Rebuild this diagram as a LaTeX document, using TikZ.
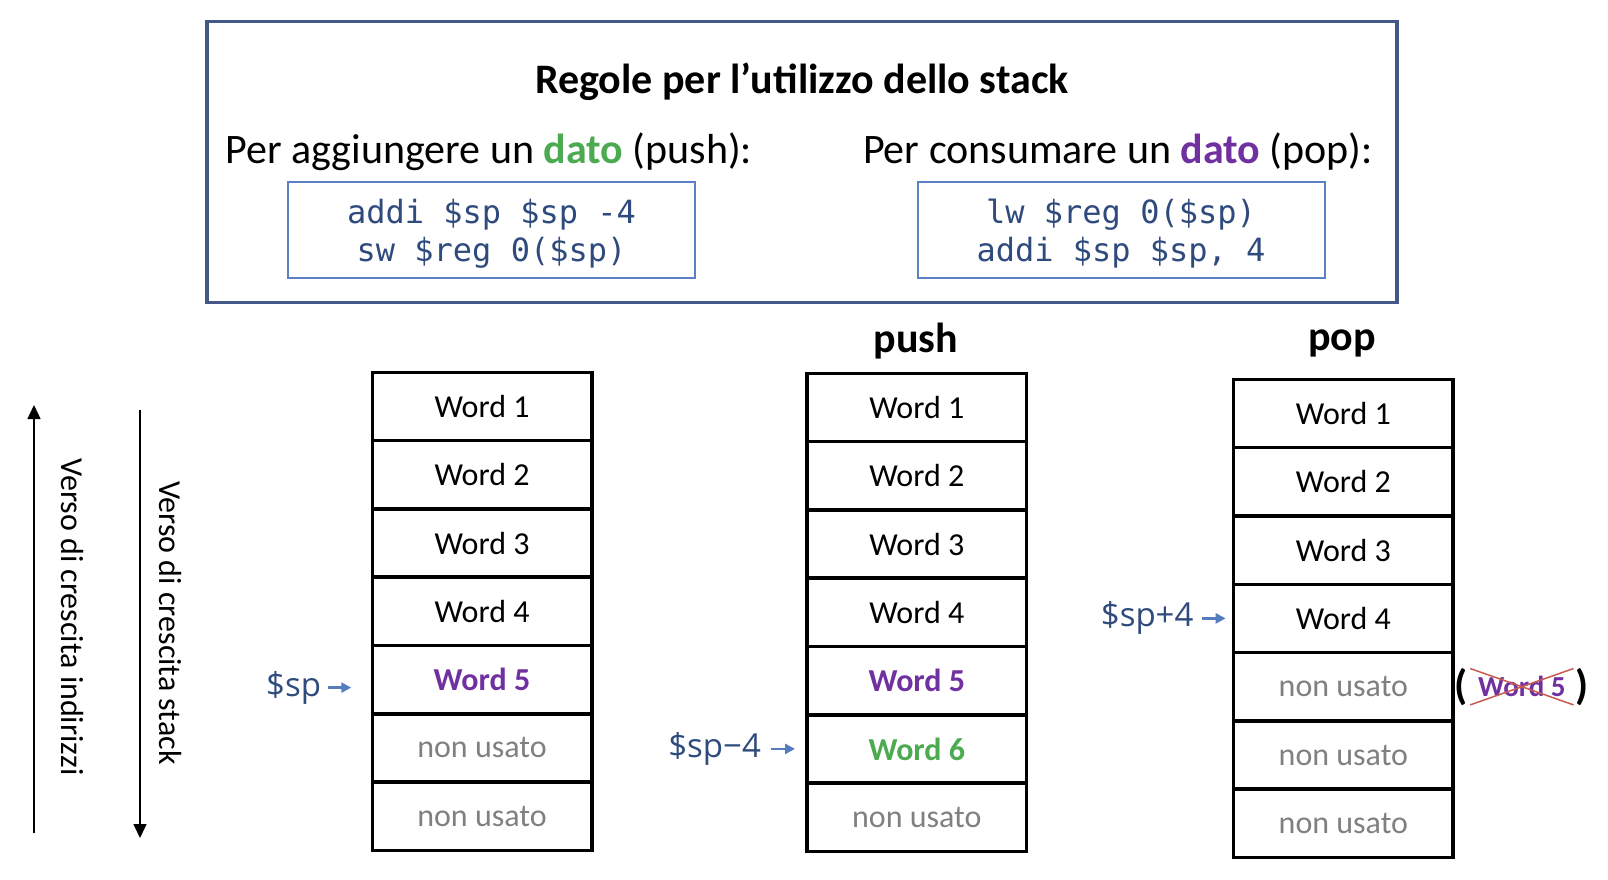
\documentclass[tikz,border=0pt]{standalone}
\usepackage{fontspec}
\setmainfont{Carlito}
\newfontfamily\codefont{DejaVu Sans Mono}
\newfontfamily\spfont{Open Sans}
\usetikzlibrary{positioning,arrows.meta}

\definecolor{boxblue}{RGB}{68,88,135}
\definecolor{codeblue}{RGB}{47,75,125}
\definecolor{frameblue}{RGB}{90,130,195}
\definecolor{arrowblue}{RGB}{85,125,190}
\definecolor{pushgreen}{RGB}{76,170,80}
\definecolor{poppurple}{RGB}{112,48,160}
\definecolor{unusedgray}{RGB}{128,128,128}
\definecolor{crossred}{RGB}{200,90,80}

\newcommand{\bigtext}{\fontsize{42}{50}\selectfont}
\newcommand{\celltext}{\fontsize{32}{38}\selectfont}
\newcommand{\codetext}{\codefont\fontsize{32}{38}\selectfont}

\tikzset{
	cell/.style={draw, line width=3.5pt, minimum width=219.5pt, minimum height=68.3pt, outer sep=0pt, inner sep=0pt, font=\celltext},
	unused/.style={cell, text=unusedgray},
	popword/.style={cell, text=poppurple, font=\celltext\bfseries},
	pushword/.style={cell, text=pushgreen, font=\celltext\bfseries},
	codebox/.style={draw=frameblue, line width=2pt, minimum width=407pt, minimum height=95.5pt, align=center, font=\codetext, text=codeblue},
	splabel/.style={inner sep=0pt, font=\spfont\fontsize{33}{40}\selectfont, text=codeblue},
	sparrow/.style={draw=arrowblue, line width=2.5pt, -{Triangle[length=10pt,width=10pt]}},
	growarrow/.style={line width=1.5pt, -{Triangle[length=14pt,width=13pt]}},
	growtext/.style={rotate=-90, font=\celltext},
	crossline/.style={draw=crossred, line width=1.5pt},
}

\begin{document}
\begin{tikzpicture}[x=1pt, y=-1pt]
	\useasboundingbox (0,0) rectangle (1608,880);

	% Rules box
	\node [draw=boxblue, line width=3.5pt, minimum width=1190pt, minimum height=281pt] (rules) at (802,162) {};
	\node [font=\bigtext\bfseries]	(title)		at (802,82)	{Regole per l’utilizzo dello stack};
	\node [font=\bigtext]			(pushrule)	at (489,152)	{Per aggiungere un \textcolor{pushgreen}{\textbf{dato}} (push):};
	\node [font=\bigtext]			(poprule)	at (1118,152)	{Per consumare un \textcolor{poppurple}{\textbf{dato}} (pop):};
	\node [codebox]				(pushcode)	at (491.5,230)	{\rule{0pt}{32pt}addi \$sp \$sp -4\\sw \$reg 0(\$sp)};
	\node [codebox]				(popcode)	at (1121,230)	{\rule{0pt}{32pt}lw \$reg 0(\$sp)\\addi \$sp \$sp, 4};

	% Stack before
	\node [cell]		(a1)	at (482,406.4)		{Word 1};
	\node [cell]		(a2)	[below=0pt of a1]	{Word 2};
	\node [cell]		(a3)	[below=0pt of a2]	{Word 3};
	\node [cell]		(a4)	[below=0pt of a3]	{Word 4};
	\node [popword]	(a5)	[below=0pt of a4]	{Word 5};
	\node [unused]	(a6)	[below=0pt of a5]	{non usato};
	\node [unused]	(a7)	[below=0pt of a6]	{non usato};

	% Stack after push
	\node [font=\bigtext\bfseries]	(pushhead)	at (916,341)	{push};
	\node [cell]		(b1)	at (916.8,407.4)	{Word 1};
	\node [cell]		(b2)	[below=0pt of b1]	{Word 2};
	\node [cell]		(b3)	[below=0pt of b2]	{Word 3};
	\node [cell]		(b4)	[below=0pt of b3]	{Word 4};
	\node [popword]	(b5)	[below=0pt of b4]	{Word 5};
	\node [pushword]	(b6)	[below=0pt of b5]	{Word 6};
	\node [unused]	(b7)	[below=0pt of b6]	{non usato};

	% Stack after pop
	\node [font=\bigtext\bfseries]	(pophead)	at (1342,343)	{pop};
	\node [cell]		(c1)	at (1343.4,413.5)	{Word 1};
	\node [cell]		(c2)	[below=0pt of c1]	{Word 2};
	\node [cell]		(c3)	[below=0pt of c2]	{Word 3};
	\node [cell]		(c4)	[below=0pt of c3]	{Word 4};
	\node [unused]	(c5)	[below=0pt of c4]	{non usato};
	\node [unused]	(c6)	[below=0pt of c5]	{non usato};
	\node [unused]	(c7)	[below=0pt of c6]	{non usato};

	% Stack pointers
	\node [splabel]	(sp)		[left=51pt of a5, yshift=-8pt]	{\$sp};
	\node [splabel]	(spminus)	[left=46pt of b6]	{\$sp−4};
	\node [splabel]	(spplus)	[left=40pt of c4]	{\$sp+4};
	\draw [sparrow, shorten <=7pt, shorten >=21pt]	(sp) -- (sp -| a5.west);
	\draw [sparrow, shorten <=10pt, shorten >=12pt]	(spminus) -- (spminus -| b6.west);
	\draw [sparrow, shorten <=8pt, shorten >=8pt]	(spplus) -- (spplus -| c4.west);

	% Removed word
	\node [font=\fontsize{29}{34}\selectfont\bfseries, text=poppurple, minimum width=103pt, minimum height=36pt, inner sep=0pt]	(oldword)	[right=17pt of c5]	{Word 5};
	\draw [crossline]	(oldword.north west) -- (oldword.south east);
	\draw [crossline]	(oldword.south west) -- (oldword.north east);
	\node [font=\bigtext\bfseries, inner sep=0pt]	(lpar)	[left=2pt of oldword]	{(};
	\node [font=\bigtext\bfseries, inner sep=0pt]	(rpar)	[right=2pt of oldword]	{)};

	% Growth directions
	\coordinate (addrbot)	at (34,833);
	\coordinate (addrtop)	at (34,405);
	\coordinate (stacktop)	at (140,410);
	\coordinate (stackbot)	at (140,838);
	\draw [growarrow]	(addrbot) -- (addrtop);
	\draw [growarrow]	(stacktop) -- (stackbot);
	\node [growtext]	(addrtxt)	at (72,617)	{Verso di crescita indirizzi};
	\node [growtext]	(stacktxt)	at (170,623)	{Verso di crescita stack};
\end{tikzpicture}
\end{document}
